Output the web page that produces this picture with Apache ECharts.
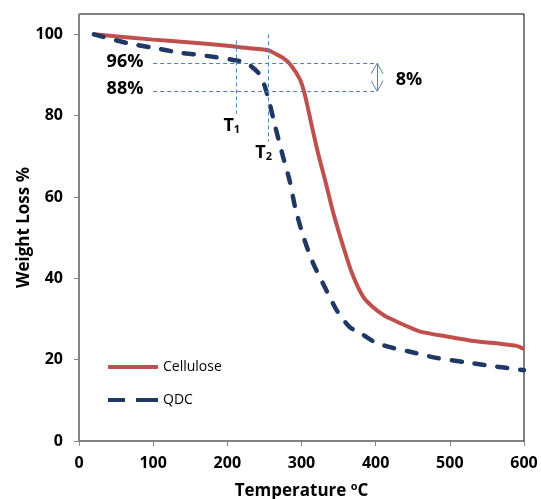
<!DOCTYPE html>
<html>
<head>
<meta charset="utf-8">
<script src="https://cdn.jsdelivr.net/npm/echarts@6/dist/echarts.min.js"></script>
<style>
  html, body { margin: 0; padding: 0; background: #fff; }
  #chart { width: 541px; height: 499px; }
</style>
</head>
<body>
<div id="chart"></div>
<script>
// temperature (C) and weight (%)
var tempCellulose = [20, 100, 150, 200, 217, 255, 266, 275, 285, 298, 305, 314, 322, 332, 343, 356, 368, 383, 397, 412, 428, 445, 460, 496, 532, 568, 590, 600];
var cellulose = [100, 98.7, 98.0, 97.2, 96.8, 96.1, 95.1, 94.2, 92.6, 88.9, 84.8, 77.4, 71, 64, 56, 48, 41.3, 35.5, 32.8, 30.8, 29.4, 28.0, 26.9, 25.7, 24.6, 23.9, 23.4, 22.6];
var tempQDC = [20, 64, 100, 136, 172, 208, 225, 242, 250, 257, 265, 275, 284, 292, 303, 315, 331, 348, 365, 379, 400, 425, 445, 480, 520, 555, 600];
var qdc = [100, 97.9, 96.7, 95.5, 94.7, 93.7, 93.0, 90.5, 87.5, 83, 77, 70, 64, 57, 50, 44, 38, 32, 28, 26.6, 24.2, 22.8, 22, 20.5, 19.4, 18.5, 17.4];

var yTicks = [0, 20, 40, 60, 80, 100];

// guide lines in data units
var guideLevels = [92.9, 86.0];        // the 96% and 88% levels
var guideFrom = 100, guideTo = 402;
var tMarks = [[212, 98.5, 80.5], [255, 100, 73.6]];   // T1, T2: temp, top, bottom
var arrowX = 402;

// text annotations: [temp, weight, text]
var notes = [
  [62, 93.3, '96%'],
  [62, 86.5, '88%'],
  [445, 88.9, '8%'],
  [206, 77.6, 'T{sub|1}'],
  [249, 70.9, 'T{sub|2}']
];

var guideColor = '#4F81BD';
var font = 'Open Sans';

var guideLines = [];
guideLevels.forEach(function (v) {
  guideLines.push([{ coord: [guideFrom, v] }, { coord: [guideTo, v] }]);
});
tMarks.forEach(function (t) {
  guideLines.push([{ coord: [t[0], t[1]] }, { coord: [t[0], t[2]] }]);
});

// double headed arrow between the two levels
var arrowLines = [
  [{ coord: [arrowX, guideLevels[0]] }, { coord: [arrowX, guideLevels[1]] }],
  [{ coord: [arrowX, guideLevels[0]] }, { coord: [arrowX - 8, guideLevels[0] - 2.6] }],
  [{ coord: [arrowX, guideLevels[0]] }, { coord: [arrowX + 8, guideLevels[0] - 2.6] }],
  [{ coord: [arrowX, guideLevels[1]] }, { coord: [arrowX - 8, guideLevels[1] + 2.6] }],
  [{ coord: [arrowX, guideLevels[1]] }, { coord: [arrowX + 8, guideLevels[1] + 2.6] }]
];

var chart = echarts.init(document.getElementById('chart'));

var option = {
  animation: false,
  textStyle: { fontFamily: font },
  grid: {
    left: 79, right: 17, top: 14, bottom: 58,
    outerBoundsMode: 'none',
    containLabel: false,
    show: true, borderColor: '#000', borderWidth: 1
  },
  legend: {
    orient: 'vertical',
    left: 103,
    top: 353,
    itemWidth: 50,
    itemHeight: 4,
    itemGap: 15,
    textStyle: { fontFamily: font, fontSize: 14, color: '#000', lineHeight: 18 },
    data: [
      { name: 'Cellulose', icon: 'roundRect' },
      { name: 'QDC', icon: 'path://M0,0h17v4h-17zM28,0h22v4h-22z' }
    ]
  },
  xAxis: {
    type: 'value',
    min: 0, max: 600, interval: 100,
    name: 'Temperature {sup|o}C',
    nameLocation: 'middle',
    nameGap: 40,
    nameMoveOverlap: false,
    nameTextStyle: {
      fontFamily: font, fontSize: 17, fontWeight: 'bold', color: '#000',
      rich: { sup: { fontFamily: font, fontSize: 11, fontWeight: 'bold', color: '#000', padding: [0, 0, 9, 0] } }
    },
    splitLine: { show: false },
    axisLine: { lineStyle: { color: '#868686', width: 1 } },
    axisTick: { show: true, length: 5, lineStyle: { color: '#868686' } },
    axisLabel: { margin: 14, fontFamily: font, fontSize: 16, fontWeight: 'bold', color: '#000' }
  },
  yAxis: {
    type: 'value',
    min: 0, max: 105,
    name: 'Weight Loss %',
    nameLocation: 'middle',
    nameGap: 46,
    nameMoveOverlap: false,
    nameTextStyle: { fontFamily: font, fontSize: 17, fontWeight: 'bold', color: '#000' },
    splitLine: { show: false },
    axisLine: { show: true, lineStyle: { color: '#868686', width: 1 } },
    axisTick: { show: true, length: 5, lineStyle: { color: '#868686' }, customValues: yTicks },
    axisLabel: { margin: 16, fontFamily: font, fontSize: 16, fontWeight: 'bold', color: '#000', customValues: yTicks }
  },
  series: [
    {
      name: 'Cellulose',
      type: 'line',
      data: tempCellulose.map(function (t, i) { return [t, cellulose[i]]; }),
      showSymbol: false,
      symbol: 'none',
      smooth: 0.25,
      lineStyle: { color: '#C0504D', width: 4 },
      itemStyle: { color: '#C0504D' },
      z: 3
    },
    {
      name: 'QDC',
      type: 'line',
      data: tempQDC.map(function (t, i) { return [t, qdc[i]]; }),
      showSymbol: false,
      symbol: 'none',
      smooth: 0.25,
      lineStyle: { color: '#1F3864', width: 4.5, type: [10, 13], cap: 'round' },
      itemStyle: { color: '#1F3864' },
      z: 4,
      markLine: {
        silent: true,
        symbol: ['none', 'none'],
        label: { show: false },
        lineStyle: { color: guideColor, width: 1, type: [4, 3], cap: 'butt' },
        data: guideLines
      }
    },
    {
      name: 'arrow',
      type: 'line',
      data: [],
      markLine: {
        silent: true,
        symbol: ['none', 'none'],
        label: { show: false },
        lineStyle: { color: guideColor, width: 1, type: 'solid' },
        data: arrowLines
      },
      markPoint: {
        silent: true,
        symbol: 'circle',
        symbolSize: 0,
        label: {
          show: true,
          position: 'inside',
          fontFamily: font,
          fontSize: 18,
          fontWeight: 'bold',
          color: '#000',
          formatter: function (p) { return p.name; },
          rich: { sub: { fontFamily: font, fontSize: 11, fontWeight: 'bold', color: '#000', padding: [9, 0, 0, 0] } }
        },
        data: notes.map(function (n) {
          return { name: n[2], coord: [n[0], n[1]] };
        })
      }
    }
  ]
};

chart.setOption(option);
</script>
</body>
</html>
